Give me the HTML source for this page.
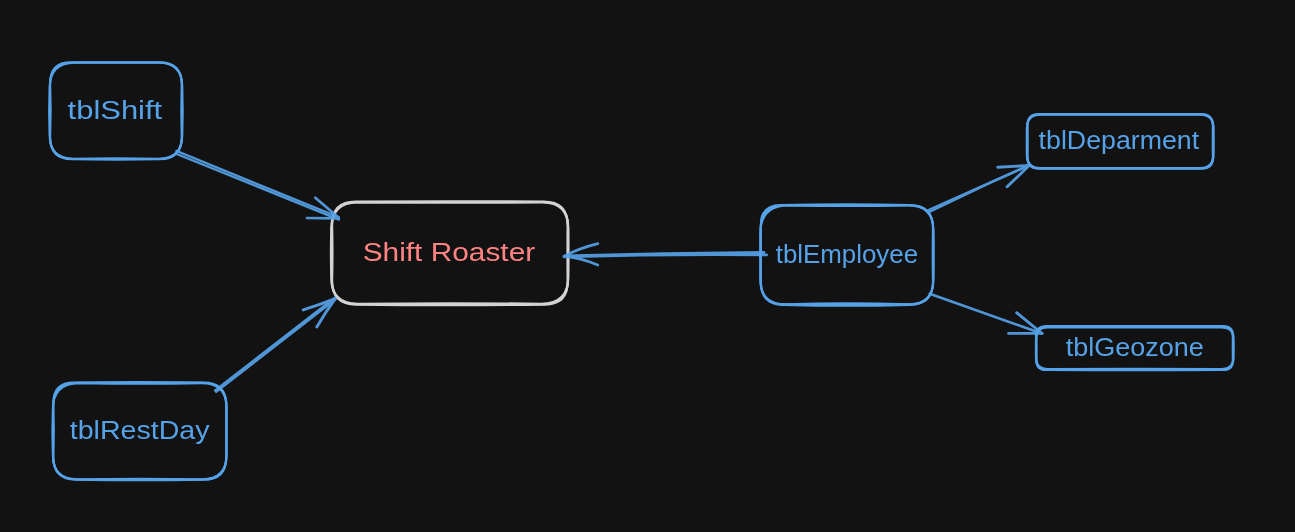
<!DOCTYPE html>
<html lang="en">
<head>
<meta charset="utf-8">
<title>Shift Roaster diagram</title>
<style>
html,body{margin:0;padding:0;background:#121212;}
body{width:1295px;height:532px;overflow:hidden;}
svg{display:block;will-change:transform;}
text{font-family:"Liberation Sans",sans-serif;}
</style>
</head>
<body>
<svg width="1295" height="532" viewBox="0 0 1295 532">
<rect width="1295" height="532" fill="#121212"/>
<g stroke="#56a2e8" stroke-width="2.1" fill="none" stroke-linejoin="round">
<path d="M70.65 62.25 Q115.95 62.15 159.50 62.25 Q181.75 62.25 181.75 84.50 Q180.90 110.75 181.75 136.65 Q181.75 159.25 159.15 159.25 Q115.95 160.05 72.15 159.25 Q50.15 159.25 50.15 137.25 Q51.15 110.75 50.15 82.75 Q50.15 62.25 70.65 62.25Z"/>
<path d="M75.15 62.75 Q115.95 62.85 158.50 62.75 Q182.25 62.75 182.25 86.50 Q183.10 110.75 182.25 135.35 Q182.25 158.75 158.85 158.75 Q115.95 157.95 73.65 158.75 Q49.65 158.75 49.65 134.75 Q48.65 110.75 49.65 88.25 Q49.65 62.75 75.15 62.75Z"/>
<path d="M72.90 62.50 Q115.95 62.50 159.00 62.50 Q182.00 62.50 182.00 85.50 Q182.00 110.75 182.00 136.00 Q182.00 159.00 159.00 159.00 Q115.95 159.00 72.90 159.00 Q49.90 159.00 49.90 136.00 Q49.90 110.75 49.90 85.50 Q49.90 62.50 72.90 62.50Z"/>
</g>
<g stroke="#56a2e8" stroke-width="2.1" fill="none" stroke-linejoin="round">
<path d="M73.85 382.65 Q139.75 381.55 203.65 382.65 Q226.15 382.65 226.15 405.15 Q226.15 431.20 226.15 457.50 Q226.15 479.75 203.90 479.75 Q139.75 480.85 75.85 479.75 Q53.35 479.75 53.35 457.25 Q54.20 431.20 53.35 403.15 Q53.35 382.65 73.85 382.65Z"/>
<path d="M79.35 383.15 Q139.75 384.25 202.15 383.15 Q226.65 383.15 226.65 407.65 Q226.65 431.20 226.65 454.50 Q226.65 479.25 201.90 479.25 Q139.75 478.15 77.35 479.25 Q52.85 479.25 52.85 454.75 Q52.00 431.20 52.85 409.65 Q52.85 383.15 79.35 383.15Z"/>
<path d="M76.60 382.90 Q139.75 382.90 202.90 382.90 Q226.40 382.90 226.40 406.40 Q226.40 431.20 226.40 456.00 Q226.40 479.50 202.90 479.50 Q139.75 479.50 76.60 479.50 Q53.10 479.50 53.10 456.00 Q53.10 431.20 53.10 406.40 Q53.10 382.90 76.60 382.90Z"/>
</g>
<g stroke="#56a2e8" stroke-width="2.1" fill="none" stroke-linejoin="round">
<path d="M780.85 204.95 Q846.90 203.85 909.95 204.95 Q932.95 204.95 932.95 227.95 Q932.45 254.90 932.95 281.60 Q932.95 304.85 909.70 304.85 Q846.90 306.75 783.85 304.85 Q760.85 304.85 760.85 281.85 Q760.95 254.90 760.85 224.95 Q760.85 204.95 780.85 204.95Z"/>
<path d="M788.35 205.45 Q846.90 206.55 908.45 205.45 Q933.45 205.45 933.45 230.45 Q933.95 254.90 933.45 279.60 Q933.45 304.35 908.70 304.35 Q846.90 302.45 785.35 304.35 Q760.35 304.35 760.35 279.35 Q760.25 254.90 760.35 233.45 Q760.35 205.45 788.35 205.45Z"/>
<path d="M784.60 205.20 Q846.90 205.20 909.20 205.20 Q933.20 205.20 933.20 229.20 Q933.20 254.90 933.20 280.60 Q933.20 304.60 909.20 304.60 Q846.90 304.60 784.60 304.60 Q760.60 304.60 760.60 280.60 Q760.60 254.90 760.60 229.20 Q760.60 205.20 784.60 205.20Z"/>
</g>
<g stroke="#56a2e8" stroke-width="2.1" fill="none" stroke-linejoin="round">
<path d="M1038.80 114.05 Q1120.20 113.85 1201.35 114.05 Q1212.85 114.05 1212.85 125.55 Q1212.65 141.40 1212.85 157.50 Q1212.85 168.75 1201.60 168.75 Q1120.20 169.05 1039.05 168.75 Q1027.55 168.75 1027.55 157.25 Q1027.75 141.40 1027.55 125.30 Q1027.55 114.05 1038.80 114.05Z"/>
<path d="M1040.60 114.75 Q1120.20 114.95 1200.05 114.75 Q1213.55 114.75 1213.55 128.25 Q1213.75 141.40 1213.55 154.30 Q1213.55 168.05 1199.80 168.05 Q1120.20 167.75 1040.35 168.05 Q1026.85 168.05 1026.85 154.55 Q1026.65 141.40 1026.85 128.50 Q1026.85 114.75 1040.60 114.75Z"/>
<path d="M1039.70 114.40 Q1120.20 114.40 1200.70 114.40 Q1213.20 114.40 1213.20 126.90 Q1213.20 141.40 1213.20 155.90 Q1213.20 168.40 1200.70 168.40 Q1120.20 168.40 1039.70 168.40 Q1027.20 168.40 1027.20 155.90 Q1027.20 141.40 1027.20 126.90 Q1027.20 114.40 1039.70 114.40Z"/>
</g>
<g stroke="#56a2e8" stroke-width="2.1" fill="none" stroke-linejoin="round">
<path d="M1045.70 326.15 Q1134.65 325.85 1223.35 326.15 Q1232.85 326.15 1232.85 335.65 Q1232.65 348.05 1232.85 360.45 Q1232.85 369.95 1223.35 369.95 Q1134.65 370.55 1045.95 369.95 Q1036.45 369.95 1036.45 360.45 Q1036.55 348.05 1036.45 335.40 Q1036.45 326.15 1045.70 326.15Z"/>
<path d="M1047.70 327.45 Q1134.75 327.75 1222.05 327.45 Q1233.55 327.45 1233.55 338.95 Q1233.75 348.25 1233.55 357.55 Q1233.55 369.05 1222.05 369.05 Q1134.75 368.45 1047.45 369.05 Q1035.95 369.05 1035.95 357.55 Q1035.85 348.25 1035.95 339.20 Q1035.95 327.45 1047.70 327.45Z"/>
<path d="M1046.70 326.80 Q1134.70 326.80 1222.70 326.80 Q1233.20 326.80 1233.20 337.30 Q1233.20 348.15 1233.20 359.00 Q1233.20 369.50 1222.70 369.50 Q1134.70 369.50 1046.70 369.50 Q1036.20 369.50 1036.20 359.00 Q1036.20 348.15 1036.20 337.30 Q1036.20 326.80 1046.70 326.80Z"/>
</g>
<g stroke="#d3d3d3" stroke-width="2.2" fill="none" stroke-linejoin="round">
<path d="M355.60 201.60 Q449.90 200.90 543.70 201.60 Q567.70 201.60 567.70 225.60 Q567.40 253.10 567.70 281.60 Q567.70 304.60 544.70 304.60 Q449.90 305.70 356.10 304.60 Q332.10 304.60 332.10 280.60 Q332.80 253.10 332.10 225.10 Q332.10 201.60 355.60 201.60Z"/>
<path d="M357.80 202.40 Q449.80 203.10 542.30 202.40 Q568.30 202.40 568.30 228.40 Q568.60 253.10 568.30 276.80 Q568.30 303.80 541.30 303.80 Q449.80 302.70 357.30 303.80 Q331.30 303.80 331.30 277.80 Q330.60 253.10 331.30 228.90 Q331.30 202.40 357.80 202.40Z"/>
<path d="M356.70 202.00 Q449.85 202.00 543.00 202.00 Q568.00 202.00 568.00 227.00 Q568.00 253.10 568.00 279.20 Q568.00 304.20 543.00 304.20 Q449.85 304.20 356.70 304.20 Q331.70 304.20 331.70 279.20 Q331.70 253.10 331.70 227.00 Q331.70 202.00 356.70 202.00Z"/>
</g>
<g stroke="#56a2e8" fill="none" stroke-linecap="round" opacity="0.92">
<path d="M176.3 150.9 L258 184.4 L339 217.2" stroke-width="2.3"/>
<path d="M175.4 153.5 L258 186.9 L339 219.6" stroke-width="2.3"/>
<path d="M315.3 197.7 L338.5 217.6" stroke-width="2.7"/>
<path d="M307 218 L338.5 218.4" stroke-width="2.7"/>
</g>
<g stroke="#56a2e8" fill="none" stroke-linecap="round" opacity="0.92">
<path d="M215.1 390.4 L334.8 297.8" stroke-width="2.4"/>
<path d="M216.2 391.8 L335.4 299.2" stroke-width="2.4"/>
<path d="M303.2 309.9 Q320 304.5 335.2 298.6" stroke-width="3.0"/>
<path d="M316.8 326.9 Q325 313 335.2 298.6" stroke-width="3.0"/>
</g>
<g stroke="#56a2e8" fill="none" stroke-linecap="round" opacity="0.92">
<path d="M764 252.5 Q664 253.4 565 255.9" stroke-width="2.8"/>
<path d="M766.6 254.9 Q665 253.9 564.3 256.8" stroke-width="2.8"/>
<path d="M597.8 243.6 Q578 248.5 564 256.4" stroke-width="2.8"/>
<path d="M597.8 265 Q580 257.5 564 256.4" stroke-width="2.8"/>
</g>
<g stroke="#56a2e8" fill="none" stroke-linecap="round" opacity="0.92">
<path d="M928.5 210.1 L1029.2 165.1" stroke-width="2.4"/>
<path d="M929.3 212.0 L990.9 182.5 L1029.2 165.4" stroke-width="2.4"/>
<path d="M997.7 167.2 L1029.2 165.5" stroke-width="2.9"/>
<path d="M1007.1 186.7 L1029.2 165.5" stroke-width="2.9"/>
</g>
<g stroke="#56a2e8" fill="none" stroke-linecap="round" opacity="0.92">
<path d="M929.7 293.8 L1042 333.6" stroke-width="2.6"/>
<path d="M1016.6 312.7 L1042 333.4" stroke-width="2.8"/>
<path d="M1008.6 333.4 L1042 333.4" stroke-width="2.8"/>
</g>
<text x="67.6" y="119.2" fill="#56a2e8" font-size="25" textLength="94.6" lengthAdjust="spacingAndGlyphs">tblShift</text>
<text x="362.7" y="260.9" fill="#ff8383" font-size="25" textLength="172.5" lengthAdjust="spacingAndGlyphs">Shift Roaster</text>
<text x="69.7" y="439.4" fill="#56a2e8" font-size="25" textLength="139.9" lengthAdjust="spacingAndGlyphs">tblRestDay</text>
<text x="775.7" y="263.2" fill="#56a2e8" font-size="25" textLength="142.4" lengthAdjust="spacingAndGlyphs">tblEmployee</text>
<text x="1038.6" y="149.1" fill="#56a2e8" font-size="25" textLength="160.5" lengthAdjust="spacingAndGlyphs">tblDeparment</text>
<text x="1065.7" y="356.3" fill="#56a2e8" font-size="25" textLength="138.1" lengthAdjust="spacingAndGlyphs">tblGeozone</text>
</svg>
</body>
</html>
